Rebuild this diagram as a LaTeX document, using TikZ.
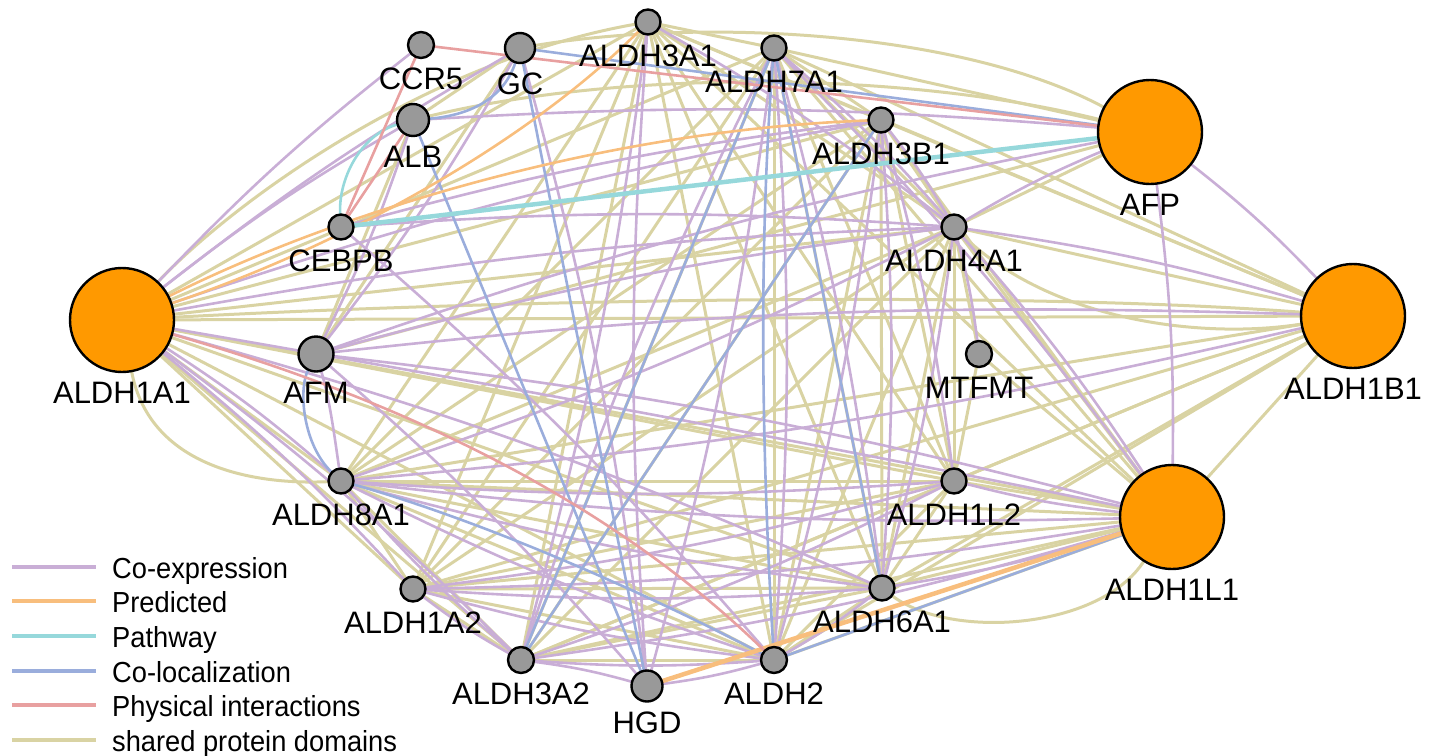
\documentclass[tikz,border=0pt]{standalone}
\usepackage{fontspec}
\setmainfont{Liberation Sans}
\usepackage{graphicx}
\pgfdeclarelayer{edges}
\pgfsetlayers{edges,main}
\definecolor{cexp}{RGB}{201,174,214}
\definecolor{cpred}{RGB}{248,190,125}
\definecolor{cpathw}{RGB}{150,216,219}
\definecolor{ccoloc}{RGB}{154,173,220}
\definecolor{cphys}{RGB}{232,160,160}
\definecolor{cdom}{RGB}{217,211,163}
\definecolor{corng}{RGB}{255,153,0}
\definecolor{cgray}{RGB}{153,153,153}
\newcommand{\lblfont}{\fontsize{31}{37}\selectfont}
\newcommand{\legtxt}[1]{\scalebox{0.94}[1]{\fontsize{29}{34}\selectfont #1}}
\tikzset{
  gene/.style={circle, draw=black, line width=2.4pt, fill=cgray, inner sep=0pt, outer sep=0pt, minimum size=25pt},
  hub/.style={gene, fill=corng, minimum size=104pt},
  every label/.style={font=\lblfont, inner sep=0pt, label distance=10pt},
  dom/.style={draw=cdom, line width=3pt},
  coexp/.style={draw=cexp, line width=2.6pt},
  pred/.style={draw=cpred, line width=2.6pt},
  pathw/.style={draw=cpathw, line width=2.6pt},
  coloc/.style={draw=ccoloc, line width=2.6pt},
  phys/.style={draw=cphys, line width=2.6pt},
  legline/.style={line width=4.5pt}
}
\begin{document}
\begin{tikzpicture}[x=1pt,y=-1pt]
\useasboundingbox (0,0) rectangle (1439,755);
% hub genes
\node[hub, label=below:ALDH1A1] (a1a1) at (122,320) {};
\node[hub, label=below:AFP] (afp) at (1150,132) {};
\node[hub, label=below:ALDH1B1] (b1) at (1353,316) {};
\node[hub, label=below:ALDH1L1] (l1) at (1172,517) {};
% other genes
\node[gene, minimum size=26pt, label=below:CCR5] (ccr5) at (421,45) {};
\node[gene, minimum size=30pt, label=below:GC] (gc) at (520,48) {};
\node[gene, label=below:ALDH3A1] (a3a1) at (648,22) {};
\node[gene, label=below:ALDH7A1] (a7a1) at (774,48) {};
\node[gene, minimum size=32pt, label=below:ALB] (alb) at (413,120) {};
\node[gene, label=below:ALDH3B1] (a3b1) at (881,120) {};
\node[gene, label=below:CEBPB] (cebpb) at (341,227) {};
\node[gene, label=below:ALDH4A1] (a4a1) at (954,227) {};
\node[gene, minimum size=35pt, label=below:AFM] (afm) at (316,354) {};
\node[gene, minimum size=26pt, label=below:MTFMT] (mtfmt) at (979,354) {};
\node[gene, label=below:ALDH8A1] (a8a1) at (341,481) {};
\node[gene, label=below:ALDH1L2] (l2) at (954,481) {};
\node[gene, label=below:ALDH1A2] (a1a2) at (413,589) {};
\node[gene, label=below:ALDH6A1] (a6a1) at (882,588) {};
\node[gene, minimum size=26pt, label=below:ALDH3A2] (a3a2) at (521,660) {};
\node[gene, minimum size=31pt, label=below:HGD] (hgd) at (647,686) {};
\node[gene, minimum size=26pt, label=below:ALDH2] (a2) at (774,660) {};

\begin{pgfonlayer}{edges}
% shared protein domains
\foreach \u/\i in {a1a1/1,a1a2/2,b1/3,l1/4,l2/5,a2/6,a3a1/7,a3a2/8,a3b1/9,a4a1/10,a6a1/11,a7a1/12,a8a1/13}{
  \foreach \v/\j in {a1a1/1,a1a2/2,b1/3,l1/4,l2/5,a2/6,a3a1/7,a3a2/8,a3b1/9,a4a1/10,a6a1/11,a7a1/12,a8a1/13}{
    \ifnum\i<\j \draw[dom] (\u) -- (\v); \fi
  }
}
\foreach \u/\v in {alb/gc,alb/afm,gc/afm,afm/afp,mtfmt/l1,mtfmt/l2,a4a1/afp,a7a1/afp,mtfmt/a4a1}
  {\draw[dom] (\u) -- (\v);}
\draw[dom] (gc) .. controls (700,18) and (960,30) .. (afp);
\draw[dom] (alb) .. controls (620,70) and (900,70) .. (afp);
\draw[dom] (a1a1) .. controls (235,200) and (430,60) .. (a3a1);
\draw[dom] (a1a1) .. controls (150,470) and (260,485) .. (a8a1);
\draw[dom] (a6a1) .. controls (950,640) and (1100,630) .. (l1);
\draw[dom] (a1a1) .. controls (500,300) and (1000,290) .. (b1);
\draw[dom] (a4a1) .. controls (1050,320) and (1200,340) .. (b1);
% co-expression
\foreach \u/\v in {a1a1/ccr5,a1a1/gc,a1a1/alb,a1a1/a3b1,a1a1/a4a1,a1a1/a8a1,a1a1/a1a2,a1a1/a3a2,a1a1/a6a1,
  gc/afm,gc/hgd,alb/afp,alb/afm,cebpb/a3b1,cebpb/a2,cebpb/a4a1,afm/afp,afm/b1,afm/l1,afm/hgd,afm/a4a1,
  a3a1/a4a1,a3a1/a3a2,a7a1/a2,a7a1/a4a1,a7a1/l1,a7a1/a6a1,a7a1/hgd,a3b1/a4a1,a3b1/l2,a3b1/a2,a3b1/a6a1,
  a4a1/afp,a4a1/b1,a4a1/l1,a4a1/mtfmt,a4a1/a6a1,a4a1/a8a1,afp/b1,afp/l1,b1/a8a1,
  l1/a3a2,l1/a6a1,l1/l2,l1/a1a2,l1/a8a1,l2/a8a1,l2/a1a2,a6a1/a1a2,a6a1/a8a1,a6a1/a2,
  a2/a1a2,a2/a8a1,a2/a3a2,a2/hgd,a3a2/a1a2,a3a2/hgd,a3a2/a8a1,a3a2/a7a1,hgd/a3a1,l2/a3a2}
  {\draw[coexp] (\u) to[bend left=4] (\v);}
\draw[coexp] (afm) .. controls (330,400) and (335,440) .. (a8a1);
\draw[coexp] (a1a1) .. controls (500,385) and (850,450) .. (l1);
% co-localization
\draw[coloc] (gc) -- (afp);
\draw[coloc] (alb) .. controls (475,115) and (505,95) .. (gc);
\draw[coloc] (alb) -- (hgd);
\draw[coloc] (gc) -- (hgd);
\draw[coloc] (a7a1) -- (a3a2);
\draw[coloc] (a3b1) -- (a3a2);
\draw[coloc] (a7a1) -- (a6a1);
\draw[coloc] (a7a1) .. controls (758,250) and (762,460) .. (a2);
\draw[coloc] (a8a1) .. controls (480,520) and (640,590) .. (a2);
\draw[coloc] (afm) .. controls (298,390) and (303,445) .. (a8a1);
\draw[coloc] (a2) -- (l1);
% predicted
\draw[pred] (a1a1) .. controls (330,215) and (600,130) .. (a3b1);
\draw[pred] (a1a1) .. controls (330,250) and (520,150) .. (a3a1);
\draw[pred, line width=4.5pt] (hgd) -- (l1);
% pathway
\draw[pathw, line width=4.5pt] (cebpb) -- (afp);
\draw[pathw] (alb) .. controls (360,135) and (338,180) .. (cebpb);
% physical interactions
\draw[phys] (ccr5) -- (afp);
\draw[phys] (ccr5) -- (cebpb);
\draw[phys] (alb) -- (cebpb);
\draw[phys] (a1a1) .. controls (420,405) and (620,510) .. (a2);
\end{pgfonlayer}

% legend
\coordinate (k1a) at (12,567); \coordinate (k1b) at (96,567);
\coordinate (k2a) at (12,601); \coordinate (k2b) at (96,601);
\coordinate (k3a) at (12,636); \coordinate (k3b) at (96,636);
\coordinate (k4a) at (12,671); \coordinate (k4b) at (96,671);
\coordinate (k5a) at (12,705); \coordinate (k5b) at (96,705);
\coordinate (k6a) at (12,740); \coordinate (k6b) at (96,740);
\draw[legline, cexp] (k1a) -- (k1b);
\draw[legline, cpred] (k2a) -- (k2b);
\draw[legline, cpathw] (k3a) -- (k3b);
\draw[legline, ccoloc] (k4a) -- (k4b);
\draw[legline, cphys] (k5a) -- (k5b);
\draw[legline, cdom] (k6a) -- (k6b);
\node[anchor=base west, inner sep=0pt] (t1) at (112,578) {\legtxt{Co-expression}};
\node[anchor=base west, inner sep=0pt] (t2) at (112,612) {\legtxt{Predicted}};
\node[anchor=base west, inner sep=0pt] (t3) at (112,647) {\legtxt{Pathway}};
\node[anchor=base west, inner sep=0pt] (t4) at (112,682) {\legtxt{Co-localization}};
\node[anchor=base west, inner sep=0pt] (t5) at (112,716) {\legtxt{Physical interactions}};
\node[anchor=base west, inner sep=0pt] (t6) at (112,751) {\legtxt{shared protein domains}};
\end{tikzpicture}
\end{document}
